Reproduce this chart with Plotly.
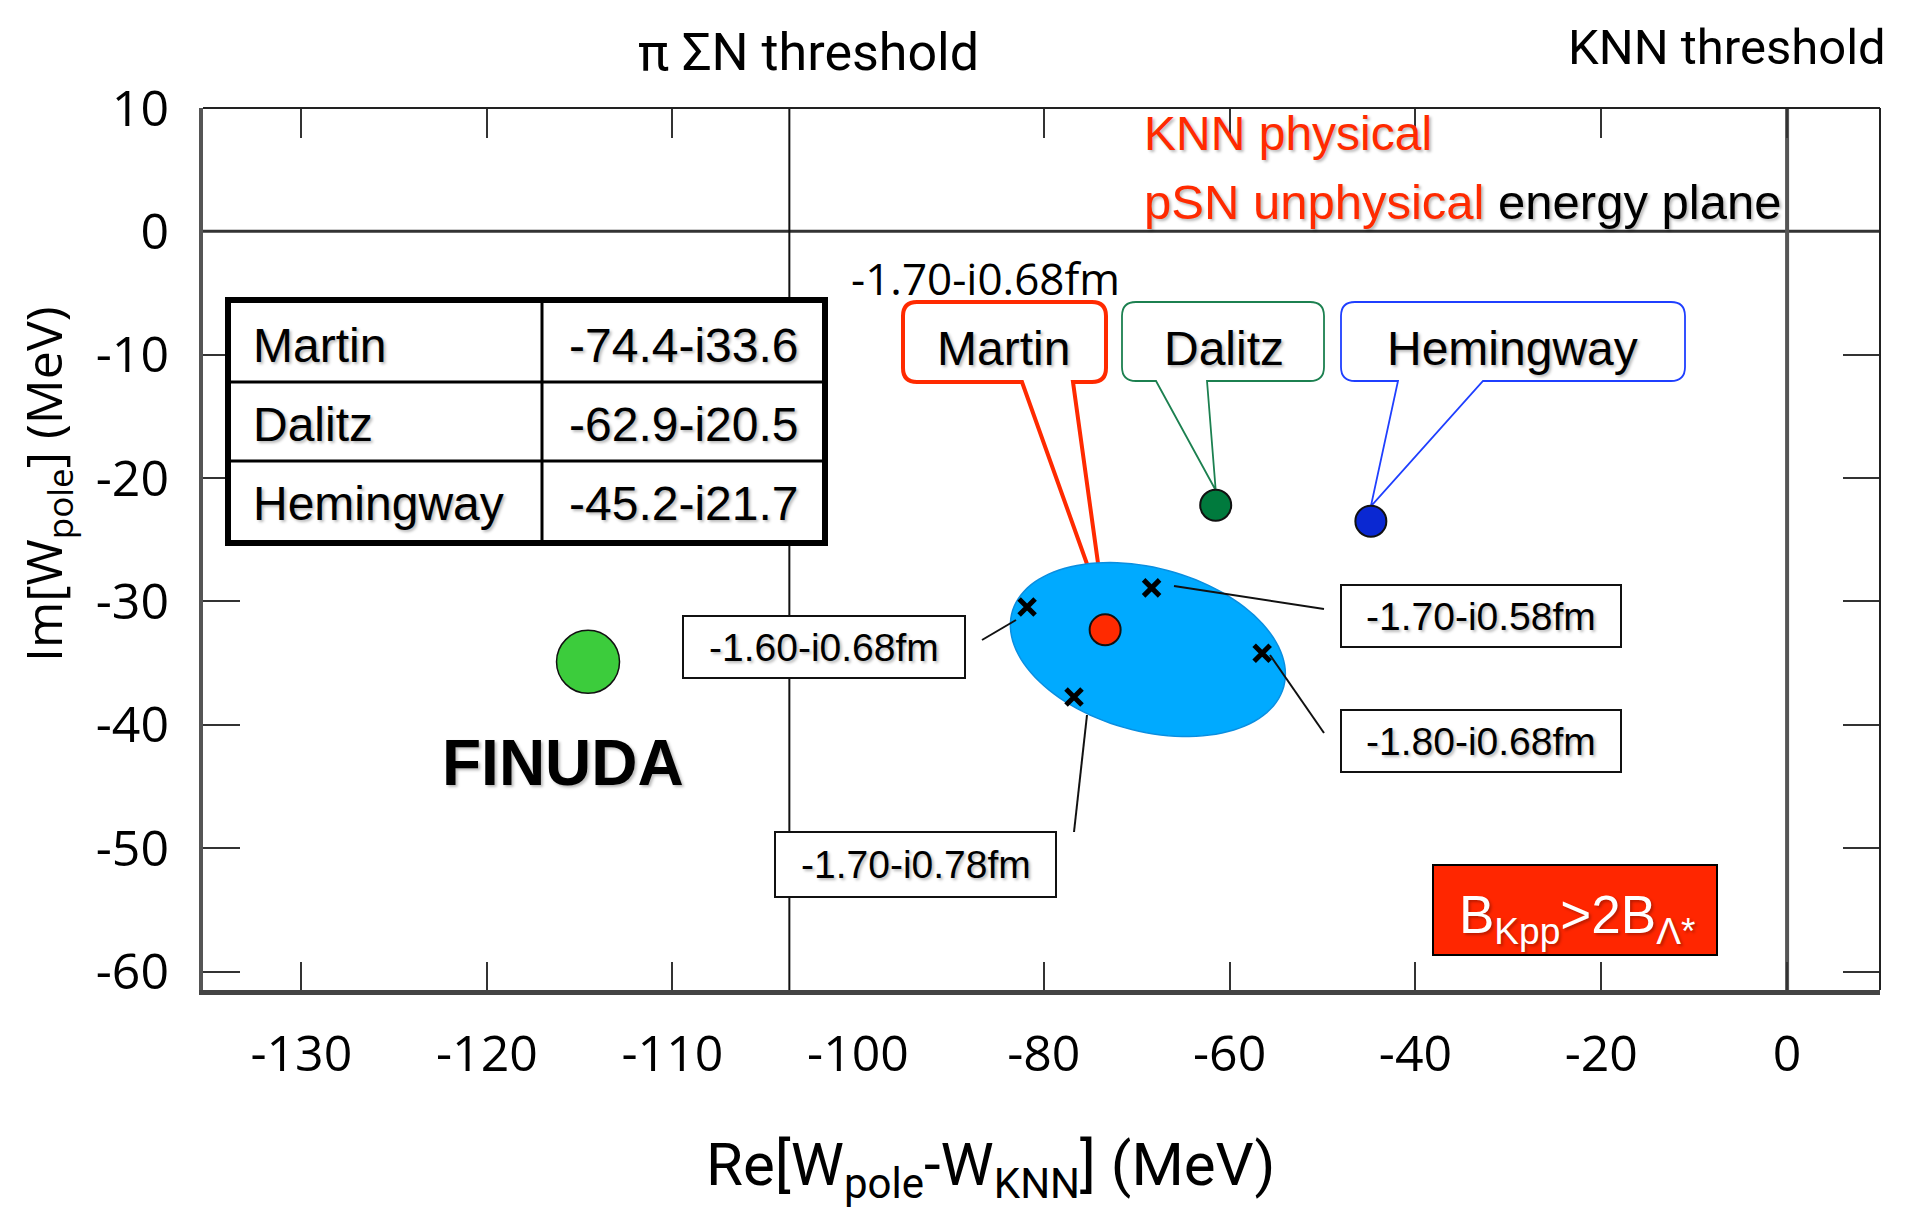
import numpy as np
import plotly.graph_objects as go

# ---------------- data ----------------
x_ticks_left = [-130, -120, -110]
x_ticks_right = [-100, -80, -60, -40, -20, 0]
y_ticks = [10, 0, -10, -20, -30, -40, -50, -60]

pisigmaN_threshold = -103.7
knn_threshold = 0.0

finuda_re = [-114.55]
finuda_im = [-34.9]

model_names = ["Martin", "Dalitz", "Hemingway"]
model_values = ["-74.4-i33.6", "-62.9-i20.5", "-45.2-i21.7"]
model_re = [-73.4, -61.5, -44.8]
model_im = [-32.3, -22.2, -23.5]

cross_labels = ["-1.60-i0.68fm", "-1.70-i0.58fm", "-1.80-i0.68fm", "-1.70-i0.78fm"]
cross_re = [-81.8, -68.4, -56.5, -76.75]
cross_im = [-30.45, -28.9, -34.2, -37.75]
center_label = "-1.70-i0.68fm"

region_center = (-68.8, -33.9)

# ---------------- geometry / style ----------------
W, H = 1910, 1217
L, R, T, B = 203, 1880, 108, 990
XB = 858
x1_range = [-135.3, -100]
x2_range = [-100, 10]
y_range = [-61.5, 10]
d_split = (XB - L) / (R - L)

ARIAL = "Liberation Sans, Arial, sans-serif"
OPEN = "Open Sans, Noto Sans, sans-serif"
NARROW = "Roboto, Liberation Sans Narrow, sans-serif"
RED = "#ff2a00"
model_colors = ["#ff2a00", "#007a3d", "#0a28d2"]
box_colors = ["#ff2a00", "#1c8050", "#1f3fff"]
box_widths = [4, 1.8, 1.8]
SHADOW = "2px 2px 3px rgba(0,0,0,0.28)"


def px_x2(v):
    return XB + (v - x2_range[0]) / (x2_range[1] - x2_range[0]) * (R - XB)


def px_y(v):
    return T + (y_range[1] - v) / (y_range[1] - y_range[0]) * (B - T)


def inv_x2(p):
    return x2_range[0] + (p - XB) / (R - XB) * (x2_range[1] - x2_range[0])


def inv_y(p):
    return y_range[1] - (p - T) / (B - T) * (y_range[1] - y_range[0])


def pp(px, py):
    return (px - L) / (R - L), (B - py) / (B - T)


fig = go.Figure()

# ---- ellipse region (x2/y data coords) ----
cxp, cyp = px_x2(region_center[0]), px_y(region_center[1])
A_, B_, th = 140.8, 81.5, np.radians(15.3)
t = np.linspace(0, 2 * np.pi, 120)
ex = cxp + A_ * np.cos(t) * np.cos(th) - B_ * np.sin(t) * np.sin(th)
ey = cyp + A_ * np.cos(t) * np.sin(th) + B_ * np.sin(t) * np.cos(th)
path = "M " + " L ".join(f"{inv_x2(a):.4f},{inv_y(b):.4f}" for a, b in zip(ex, ey)) + " Z"
shapes = []
shapes.append(dict(type="path", path=path, xref="x2", yref="y", fillcolor="#00aaff",
                   line=dict(color="#0a8ee0", width=1.5), layer="below"))

# ---- threshold lines ----
shapes.append(dict(type="line", xref="paper", yref="y", x0=0, x1=1, y0=0, y1=0,
                   line=dict(color="#333", width=3), layer="below"))
shapes.append(dict(type="line", xref="x", yref="paper", x0=pisigmaN_threshold, x1=pisigmaN_threshold,
                   y0=0, y1=1, line=dict(color="#111", width=2), layer="below"))
shapes.append(dict(type="line", xref="x2", yref="paper", x0=knn_threshold, x1=knn_threshold,
                   y0=0, y1=1, line=dict(color="#555", width=4), layer="below"))
# top and right border
shapes.append(dict(type="line", xref="paper", yref="paper", x0=0, x1=1, y0=1, y1=1,
                   line=dict(color="#222", width=2)))
shapes.append(dict(type="line", xref="paper", yref="paper", x0=1, x1=1, y0=0, y1=1,
                   line=dict(color="#222", width=2)))

# ---- callouts ----
callout_boxes = [(903, 302, 1106, 382, 1022, 1073), (1122, 302, 1324, 381, 1156, 1207),
                 (1341, 302, 1685, 381, 1398, 1483)]
for i, (x0, y0, x1, y1, tl, tr) in enumerate(callout_boxes):
    mx, my = px_x2(model_re[i]), px_y(model_im[i]) - 15
    r = 14
    pts = [("M", (x0 + r, y0)), ("L", (x1 - r, y0)), ("Q", (x1, y0), (x1, y0 + r)),
           ("L", (x1, y1 - r)), ("Q", (x1, y1), (x1 - r, y1)), ("L", (tr, y1)), ("L", (mx, my)),
           ("L", (tl, y1)), ("L", (x0 + r, y1)), ("Q", (x0, y1), (x0, y1 - r)),
           ("L", (x0, y0 + r)), ("Q", (x0, y0), (x0 + r, y0))]
    s = ""
    for item in pts:
        cmd = item[0]
        coords = " ".join("%.5f,%.5f" % pp(*c) for c in item[1:])
        s += f"{cmd} {coords} "
    s += "Z"
    shapes.append(dict(type="path", path=s, xref="paper", yref="paper", fillcolor="white",
                       line=dict(color=box_colors[i], width=box_widths[i]), layer="below"))

# ---- cross label boxes and leaders ----
cross_boxes = [(683, 616, 965, 678), (1341, 585, 1621, 647), (1341, 710, 1621, 772), (775, 832, 1056, 897)]
leaders = [((982, 640), (1016, 620)), ((1174, 586), (1324, 609)), ((1270, 655), (1324, 733)),
           ((1087, 715), (1074, 832))]
for (x0, y0, x1, y1) in cross_boxes:
    a0 = pp(x0, y0); a1 = pp(x1, y1)
    shapes.append(dict(type="rect", xref="paper", yref="paper", x0=a0[0], y0=a0[1], x1=a1[0], y1=a1[1],
                       fillcolor="white", line=dict(color="#111", width=2)))
for (p0, p1) in leaders:
    a0 = pp(*p0); a1 = pp(*p1)
    shapes.append(dict(type="line", xref="paper", yref="paper", x0=a0[0], y0=a0[1], x1=a1[0], y1=a1[1],
                       line=dict(color="#111", width=2)))

# ---- table ----
tb = (228, 300, 825, 543)
a0 = pp(tb[0], tb[1]); a1 = pp(tb[2], tb[3])
shapes.append(dict(type="rect", xref="paper", yref="paper", x0=a0[0], y0=a0[1], x1=a1[0], y1=a1[1],
                   fillcolor="white", line=dict(color="black", width=6)))
for yy in (382, 461):
    a0 = pp(tb[0], yy); a1 = pp(tb[2], yy)
    shapes.append(dict(type="line", xref="paper", yref="paper", x0=a0[0], y0=a0[1], x1=a1[0], y1=a1[1],
                       line=dict(color="black", width=3)))
a0 = pp(542, tb[1]); a1 = pp(542, tb[3])
shapes.append(dict(type="line", xref="paper", yref="paper", x0=a0[0], y0=a0[1], x1=a1[0], y1=a1[1],
                   line=dict(color="black", width=3)))

# ---- B box ----
a0 = pp(1433, 865); a1 = pp(1717, 955)
shapes.append(dict(type="rect", xref="paper", yref="paper", x0=a0[0], y0=a0[1], x1=a1[0], y1=a1[1],
                   fillcolor="#ff2600", line=dict(color="black", width=2)))

# ---------------- traces ----------------
fig.add_trace(go.Scatter(x=finuda_re, y=finuda_im, xaxis="x", yaxis="y", mode="markers",
                         marker=dict(size=63, color="#3ccc3c", line=dict(color="#111", width=1.5)),
                         showlegend=False, hoverinfo="skip"))
fig.add_trace(go.Scatter(x=model_re, y=model_im, xaxis="x2", yaxis="y", mode="markers",
                         marker=dict(size=31, color=model_colors, line=dict(color="#111", width=2)),
                         showlegend=False, hoverinfo="skip"))
fig.add_trace(go.Scatter(x=cross_re, y=cross_im, xaxis="x2", yaxis="y", mode="markers",
                         marker=dict(size=16, symbol="x-thin", line=dict(color="black", width=5)),
                         showlegend=False, hoverinfo="skip"))
# dummy traces for mirror axes
fig.add_trace(go.Scatter(x=[None], y=[None], xaxis="x3", yaxis="y", showlegend=False, hoverinfo="skip"))
fig.add_trace(go.Scatter(x=[None], y=[None], xaxis="x4", yaxis="y", showlegend=False, hoverinfo="skip"))
fig.add_trace(go.Scatter(x=[None], y=[None], xaxis="x2", yaxis="y2", showlegend=False, hoverinfo="skip"))

# ---------------- annotations ----------------
ann = []


def text(s, px, py, size, color="black", family=ARIAL, xanchor="center", yanchor="middle",
         shadow="none", weight="normal", angle=0):
    x, y = pp(px, py)
    ann.append(dict(text=s, x=x, y=y, xref="paper", yref="paper", showarrow=False,
                    xanchor=xanchor, yanchor=yanchor, textangle=angle,
                    font=dict(size=size, color=color, family=family, shadow=shadow, weight=weight)))


# table text
row_y = [345, 424, 503]
for i in range(3):
    text(model_names[i], 251, row_y[i], 48, xanchor="left", shadow=SHADOW)
    text(model_values[i], 800, row_y[i], 48, xanchor="right", shadow=SHADOW)

# callout texts
callout_text_x = [1003, 1224, 1512]
for i in range(3):
    text(model_names[i], callout_text_x[i], 348, 48, shadow=SHADOW)
text(center_label, 985, 278, 44, family=OPEN)

# cross labels
for lab, (x0, y0, x1, y1) in zip(cross_labels, cross_boxes):
    text(lab, (x0 + x1) / 2, (y0 + y1) / 2, 39, shadow=SHADOW)

text("FINUDA", 563, 763, 64, weight="bold", shadow=SHADOW)
text("KNN physical", 1142, 134, 48, color=RED, xanchor="left", shadow=SHADOW)
text("pSN unphysical <span style='color:black'>energy plane</span>", 1142, 202, 49, color=RED,
     xanchor="left", shadow=SHADOW)
text("B<sub>Kpp</sub>&gt;2B<sub>Λ*</sub>", 1577, 918, 53, color="white", shadow=SHADOW)

text("π ΣN threshold", 808, 52, 52, family=NARROW)
text("KNN threshold", 1888, 48, 49, family=NARROW, xanchor="right")
text("Re[W<sub>pole</sub>-W<sub>KNN</sub>] (MeV)", 990, 1168, 60, family=NARROW)
text("Im[W<sub>pole</sub>] (MeV)", 46, 485, 50, family=OPEN, angle=-90)

# ---------------- layout ----------------
tickfont = dict(family=OPEN, size=50, color="black")
common_x = dict(showgrid=False, zeroline=False, ticks="inside", ticklen=28, tickwidth=1.5,
                tickcolor="#333", tickfont=tickfont, ticklabelstandoff=16,
                showline=True, linecolor="#444", linewidth=5)
fig.update_layout(
    width=W, height=H,
    margin=dict(l=L, r=W - R, t=T, b=H - B),
    paper_bgcolor="white", plot_bgcolor="white",
    shapes=shapes, annotations=ann, showlegend=False,
    xaxis=dict(domain=[0, d_split], range=x1_range, tickvals=x_ticks_left,
               ticktext=[str(v) for v in x_ticks_left], anchor="y", **common_x),
    xaxis2=dict(domain=[d_split, 1], range=x2_range, tickvals=x_ticks_right,
                ticktext=[str(v) for v in x_ticks_right], anchor="y", **common_x),
    xaxis3=dict(overlaying="x", side="top", anchor="y", range=x1_range, tickvals=x_ticks_left,
                showticklabels=False, ticks="inside", ticklen=30, tickwidth=1.5, tickcolor="#333",
                showgrid=False, zeroline=False, showline=False),
    xaxis4=dict(overlaying="x2", side="top", anchor="y", range=x2_range, tickvals=x_ticks_right,
                showticklabels=False, ticks="inside", ticklen=30, tickwidth=1.5, tickcolor="#333",
                showgrid=False, zeroline=False, showline=False),
    yaxis=dict(domain=[0, 1], range=y_range, tickvals=y_ticks, ticktext=[str(v) for v in y_ticks],
               anchor="x", showgrid=False, zeroline=False,
               ticks="inside", ticklen=37, tickwidth=2, tickcolor="#333", tickfont=tickfont,
               ticklabelstandoff=20, showline=True, linecolor="#555", linewidth=4),
    yaxis2=dict(overlaying="y", side="right", anchor="x2", range=y_range, tickvals=y_ticks,
                showticklabels=False, ticks="inside", ticklen=37, tickwidth=2, tickcolor="#333",
                showgrid=False, zeroline=False, showline=False),
)

fig.write_html("out.html")
